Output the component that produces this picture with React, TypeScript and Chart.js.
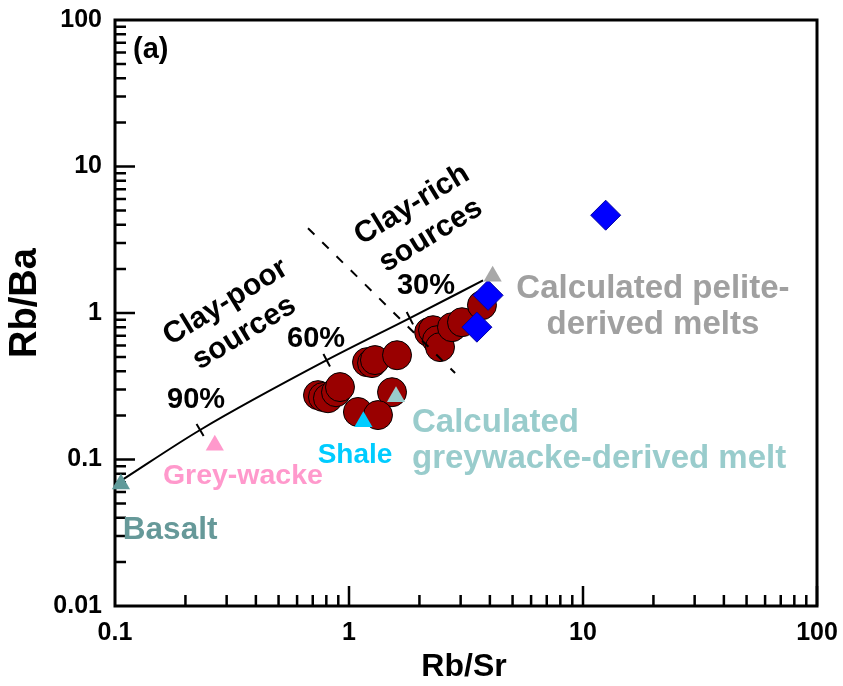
import React, { useEffect, useRef } from 'react';
import { Chart, registerables } from 'chart.js';
Chart.register(...registerables);

const FONT = '"Liberation Sans", Arial, Helvetica, sans-serif';

// Axis tick labels (decades)
const xTickLabels = ['0.1', '1', '10', '100'];
const yTickLabels = ['0.01', '0.1', '1', '10', '100'];

// Samples (dark red circles)
const sampleRbSr = [0.737, 0.774, 0.813, 0.88, 0.915, 1.194, 1.254, 1.291, 1.604, 1.527, 1.092, 1.33, 2.2, 2.286, 2.377, 2.449, 2.755, 3.04, 3.7];
const sampleRbBa = [0.275, 0.267, 0.262, 0.288, 0.312, 0.462, 0.455, 0.477, 0.515, 0.288, 0.211, 0.201, 0.74, 0.763, 0.652, 0.585, 0.8, 0.865, 1.13];

// Blue diamonds
const diamondRbSr = [3.93, 3.52, 12.5];
const diamondRbBa = [1.32, 0.8, 4.65];

// Reference compositions (triangles)
const refNames = ['Basalt', 'Grey-wacke', 'Shale', 'Calculated greywacke-derived melt', 'Calculated pelite-derived melts'];
const refRbSr = [0.106, 0.267, 1.152, 1.588, 4.11];
const refRbBa = [0.068, 0.125, 0.181, 0.268, 1.78];
const refColors = ['#5f9a9a', '#ff99cc', '#00ccff', '#99cccc', '#a8a8a8'];

// Mixing curve
const mixRbSr = [0.107, 0.231, 0.803, 1.82, 3.74];
const mixRbBa = [0.0723, 0.159, 0.476, 0.922, 1.67];
const mixTickIndex = [1, 2, 3];

// Clay-poor / clay-rich divider
const divRbSr = [0.668, 2.84];
const divRbBa = [3.79, 0.389];

type Ann = { lines: string[]; x: number; y: number; color: string; size: number; align: CanvasTextAlign; rot?: number; lh?: number };
const annotations: Ann[] = [
  { lines: ['(a)'], x: 0.1194, y: 62, color: '#000', size: 29, align: 'left' },
  { lines: ['Clay-poor', 'sources'], x: 0.3257, y: 0.929, color: '#000', size: 30, align: 'center', rot: -31.4, lh: 36 },
  { lines: ['Clay-rich', 'sources'], x: 2.04, y: 4.3, color: '#000', size: 30, align: 'center', rot: -31.4, lh: 36 },
  { lines: ['90%'], x: 0.222, y: 0.254, color: '#000', size: 29, align: 'center' },
  { lines: ['60%'], x: 0.723, y: 0.663, color: '#000', size: 29, align: 'center' },
  { lines: ['30%'], x: 2.133, y: 1.524, color: '#000', size: 29, align: 'center' },
  { lines: ['Calculated pelite-', 'derived melts'], x: 19.9, y: 1.1, color: '#a0a0a0', size: 33, align: 'center', lh: 36 },
  { lines: ['Calculated', 'greywacke-derived melt'], x: 1.859, y: 0.134, color: '#99cccc', size: 33, align: 'left', lh: 36 },
  { lines: ['Shale'], x: 1.061, y: 0.107, color: '#00ccff', size: 28, align: 'center' },
  { lines: ['Grey-wacke'], x: 0.352, y: 0.077, color: '#ff99cc', size: 28.5, align: 'center' },
  { lines: ['Basalt'], x: 0.172, y: 0.033, color: '#669999', size: 31.5, align: 'center' },
];

const framePlugin = {
  id: 'frame',
  beforeDatasetsDraw(chart: any) {
    const { ctx, chartArea: a, scales } = chart;
    const xs = scales.x, ys = scales.y;
    ctx.save();
    ctx.strokeStyle = '#000';
    ctx.lineWidth = 2.5;
    ctx.beginPath();
    for (let e = -2; e <= 1; e++) {
      for (let m = 1; m <= 9; m++) {
        const v = m * Math.pow(10, e);
        if (e === -2 && m === 1) continue;
        const py = ys.getPixelForValue(v);
        const len = m === 1 ? 20 : 11;
        ctx.moveTo(a.left, py);
        ctx.lineTo(a.left + len, py);
      }
    }
    for (let e = -1; e <= 1; e++) {
      for (let m = 1; m <= 9; m++) {
        const v = m * Math.pow(10, e);
        if (e === -1 && m === 1) continue;
        const px = xs.getPixelForValue(v);
        const len = m === 1 ? 20 : 11;
        ctx.moveTo(px, a.bottom);
        ctx.lineTo(px, a.bottom - len);
      }
    }
    const p100 = xs.getPixelForValue(100);
    ctx.moveTo(p100, a.bottom);
    ctx.lineTo(p100, a.bottom - 20);
    ctx.stroke();
    ctx.lineWidth = 3;
    ctx.strokeRect(a.left, a.top, a.right - a.left, a.bottom - a.top);
    ctx.restore();
  },
  afterDatasetsDraw(chart: any) {
    const { ctx, chartArea: a, scales } = chart;
    const xs = scales.x, ys = scales.y;
    ctx.save();
    ctx.strokeStyle = '#000';
    ctx.lineWidth = 2;
    ctx.beginPath();
    mixTickIndex.forEach((i) => {
      const px = xs.getPixelForValue(mixRbSr[i]);
      const py = ys.getPixelForValue(mixRbBa[i]);
      const x0 = xs.getPixelForValue(mixRbSr[i - 1]), y0 = ys.getPixelForValue(mixRbBa[i - 1]);
      const x1 = xs.getPixelForValue(mixRbSr[i + 1]), y1 = ys.getPixelForValue(mixRbBa[i + 1]);
      let dx = x1 - x0, dy = y1 - y0;
      const l = Math.hypot(dx, dy);
      dx /= l; dy /= l;
      const nx = -dy, ny = dx;
      ctx.moveTo(px - nx * 7, py - ny * 7);
      ctx.lineTo(px + nx * 7, py + ny * 7);
    });
    ctx.stroke();
    annotations.forEach((an) => {
      const px = xs.getPixelForValue(an.x);
      const py = ys.getPixelForValue(an.y);
      ctx.save();
      ctx.translate(px, py);
      if (an.rot) ctx.rotate((an.rot * Math.PI) / 180);
      ctx.font = `bold ${an.size}px ${FONT}`;
      ctx.fillStyle = an.color;
      ctx.textAlign = an.align;
      ctx.textBaseline = 'middle';
      const lh = an.lh || an.size * 1.2;
      const n = an.lines.length;
      an.lines.forEach((t, k) => {
        ctx.fillText(t, 0, (k - (n - 1) / 2) * lh);
      });
      ctx.restore();
    });
    ctx.fillStyle = '#000';
    ctx.textAlign = 'center';
    ctx.textBaseline = 'middle';
    ctx.font = `bold 32px ${FONT}`;
    ctx.fillText('Rb/Sr', (a.left + a.right) / 2 - 2, a.bottom + 61);
    ctx.save();
    ctx.translate(a.left - 89, (a.top + a.bottom) / 2 - 10);
    ctx.rotate(-Math.PI / 2);
    ctx.font = `bold 38px ${FONT}`;
    ctx.fillText('Rb/Ba', 0, 0);
    ctx.restore();
    ctx.restore();
  },
};

function decadeLabel(list: string[]) {
  return (v: any) => {
    const s = list.find((t) => Math.abs(parseFloat(t) - Number(v)) < 1e-9 * Math.max(1, Number(v)));
    return s === undefined ? '' : s;
  };
}

function zeroPad(s: any) {
  s.paddingTop = 0;
  s.paddingBottom = 0;
  s.paddingLeft = 0;
  s.paddingRight = 0;
}

export default function App() {
  const ref = useRef<HTMLCanvasElement>(null);
  useEffect(() => {
    const canvas = ref.current!;
    const chart = new Chart(canvas, {
      type: 'scatter',
      data: {
        datasets: [
          {
            label: 'Reference compositions',
            data: refRbSr.map((x, i) => ({ x, y: refRbBa[i] })),
            pointStyle: 'triangle',
            pointRadius: 10.5,
            backgroundColor: refColors,
            borderColor: refColors,
            borderWidth: 0,
            order: 0,
            clip: false,
          } as any,
          {
            label: 'Diamonds',
            data: diamondRbSr.map((x, i) => ({ x, y: diamondRbBa[i] })),
            pointStyle: 'rectRot',
            pointRadius: 15,
            backgroundColor: '#0000ff',
            borderColor: '#0000a0',
            borderWidth: 1,
            order: 1,
          },
          {
            label: 'Mixing curve',
            data: mixRbSr.map((x, i) => ({ x, y: mixRbBa[i] })),
            showLine: true,
            borderColor: '#000',
            borderWidth: 2,
            pointRadius: 0,
            cubicInterpolationMode: 'monotone',
            order: 2,
          } as any,
          {
            label: 'Divider',
            data: divRbSr.map((x, i) => ({ x, y: divRbBa[i] })),
            showLine: true,
            borderColor: '#000',
            borderWidth: 2,
            borderDash: [9, 11],
            pointRadius: 0,
            order: 2,
          } as any,
          {
            label: 'Samples',
            data: sampleRbSr.map((x, i) => ({ x, y: sampleRbBa[i] })),
            pointStyle: 'circle',
            pointRadius: 14.5,
            backgroundColor: '#990000',
            borderColor: '#000',
            borderWidth: 1,
            order: 3,
          },
        ],
      },
      options: {
        animation: false,
        responsive: false,
        devicePixelRatio: 1,
        events: [],
        layout: { padding: { top: 20, right: 26, left: 0, bottom: 0 } },
        plugins: { legend: { display: false }, tooltip: { enabled: false } },
        scales: {
          x: {
            type: 'logarithmic',
            position: 'bottom',
            min: 0.1,
            max: 100,
            grid: { display: false, drawTicks: false },
            border: { display: false },
            ticks: {
              autoSkip: false,
              maxRotation: 0,
              padding: 12,
              color: '#000',
              font: { family: FONT, size: 25, weight: 'bold' },
              callback: decadeLabel(xTickLabels),
            },
            afterFit: (s: any) => { s.height = 80; zeroPad(s); },
          },
          y: {
            type: 'logarithmic',
            position: 'left',
            min: 0.01,
            max: 100,
            grid: { display: false, drawTicks: false },
            border: { display: false },
            ticks: {
              autoSkip: false,
              padding: 13,
              color: '#000',
              font: { family: FONT, size: 25, weight: 'bold' },
              callback: decadeLabel(yTickLabels),
            },
            afterFit: (s: any) => { s.width = 115; zeroPad(s); },
          },
        },
      } as any,
      plugins: [framePlugin],
    });
    return () => chart.destroy();
  }, []);
  return (
    <div style={{ position: 'absolute', left: 0, top: 0, width: 843, height: 686, background: '#fff' }}>
      <canvas ref={ref} width={843} height={686} style={{ display: 'block' }} />
    </div>
  );
}
